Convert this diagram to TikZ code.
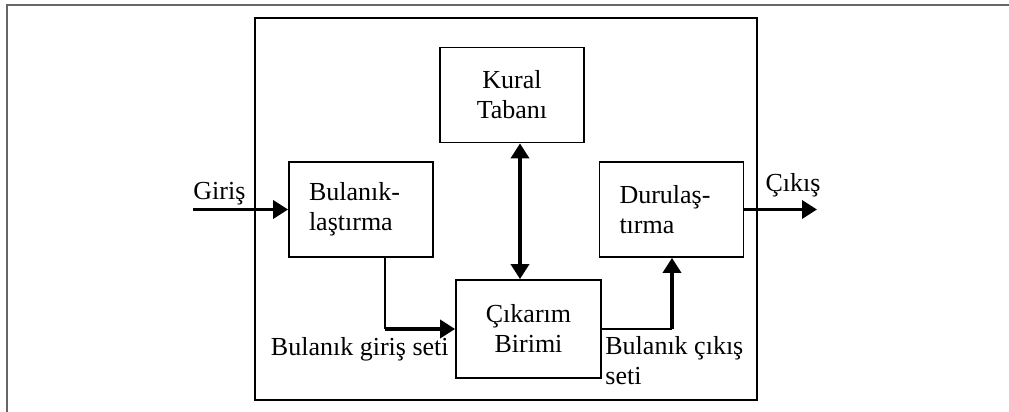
\documentclass[tikz,border=0pt]{standalone}
\usepackage{fontspec}
\setmainfont{Liberation Serif}
\usetikzlibrary{positioning,arrows.meta}

\begin{document}
\begin{tikzpicture}[
    x=0.5pt, y=-0.5pt,
    >={Triangle[length=7.5pt,width=9pt]},
    every node/.style={font=\fontsize{13}{15}\selectfont},
    blok/.style={draw, line width=0.9pt, minimum width=72pt, minimum height=47.5pt, inner sep=0pt},
    solblok/.style={blok, align=left, text width=52pt, inner xsep=10pt},
    ince/.style={line width=0.9pt},
    kalin/.style={line width=1.8pt}
]
\useasboundingbox (0,0) rectangle (1009,412);
\draw[gray!80!black, line width=1pt] (7,412) -- (7,5) -- (1009,5);
\draw[ince] (255,18) rectangle (757,400);

\node[blok, align=center] (kural) at (512,95) {Kural\\Taban\i};
\node[solblok] (bul) at (361,209.5) {Bulan\i k-\\la\c st\i rma};
\node[solblok] (duru) at (671.5,209.5) {Durula\c s-\\t\i rma};
\node[blok, align=center, minimum width=72.5pt, minimum height=49pt] (cikarim) at (528.5,329) {\c C\i kar\i m\\Birimi};

\coordinate (giris) at (193,209.5);
\coordinate (cikis) at (817,209.5);
\coordinate (orta) at (520,210);
\coordinate (k1) at (385,329);
\coordinate (k2) at (672,329);

\node[above=2pt of giris, anchor=south west, inner sep=0pt] (giristxt) {Giri\c s};
\node[anchor=south, inner sep=0pt] (cikistxt) at (793,197) {\c C\i k\i \c s};
\node[anchor=east, inner sep=0pt] (bgs) at (449,349) {Bulan\i k giri\c s seti};
\node[anchor=north west, align=left, inner sep=0pt] (bcs) at (605,336) {Bulan\i k \c c\i k\i \c s\\seti};

\draw[kalin,->] (giris) -- (bul.west);
\draw[kalin,->] (duru.east) -- (cikis);
\draw[kalin,<->] (kural.south -| orta) -- (cikarim.north -| orta);
\draw[ince] (bul.south -| k1) -- (k1);
\draw[kalin,->] (k1) -- (cikarim.west |- k1);
\draw[ince] (cikarim.east |- k2) -- (k2);
\draw[kalin,->] (k2) -- (duru.south -| k2);
\end{tikzpicture}
\end{document}
